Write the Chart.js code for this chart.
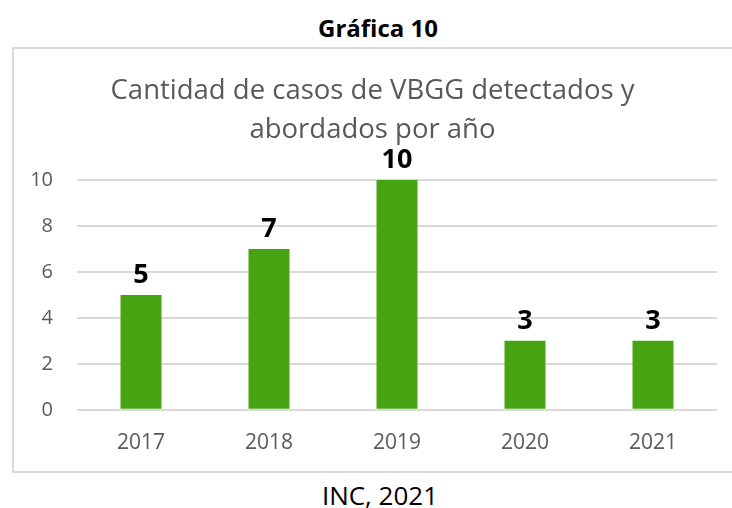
<!DOCTYPE html>
<html>
<head>
<meta charset="utf-8">
<script src="https://cdn.jsdelivr.net/npm/chart.js@4"></script>
<style>
  html, body { margin: 0; padding: 0; width: 732px; height: 508px; overflow: hidden; background: #fff; font-family: "Open Sans", sans-serif; }
  #heading { position: absolute; left: 12px; width: 732px; top: 12px; text-align: center; font-weight: bold; font-size: 24px; line-height: 32px; color: #000; }
  #box { position: absolute; left: 12px; top: 47px; width: 760px; height: 422px; border: 2px solid #d9d9d9; }
  #wrap { position: absolute; left: 14px; top: 49px; width: 718px; height: 428px; }
  #source { position: absolute; left: 14px; width: 732px; top: 478px; text-align: center; font-size: 26px; line-height: 34px; color: #000; }
</style>
</head>
<body>
<div id="heading">Gráfica 10</div>
<div id="box"></div>
<div id="wrap"><canvas id="chart"></canvas></div>
<div id="source">INC, 2021</div>
<script>
// Data
const years = ['2017', '2018', '2019', '2020', '2021'];
const casos = [5, 7, 10, 3, 3];
const yTicks = [0, 2, 4, 6, 8, 10];

// draw the values above each bar
const valueLabels = {
  id: 'valueLabels',
  afterDatasetsDraw(chart) {
    const ctx = chart.ctx;
    const meta = chart.getDatasetMeta(0);
    ctx.save();
    ctx.font = 'bold 27px "Open Sans"';
    ctx.fillStyle = '#000';
    ctx.textAlign = 'center';
    ctx.textBaseline = 'alphabetic';
    meta.data.forEach((bar, i) => {
      ctx.fillText(casos[i], bar.x, bar.y - 12);
    });
    ctx.restore();
  }
};

new Chart(document.getElementById('chart').getContext('2d'), {
  type: 'bar',
  data: {
    labels: years,
    datasets: [{
      data: casos,
      backgroundColor: '#46a312',
      barPercentage: 0.32,
      categoryPercentage: 1
    }]
  },
  options: {
    responsive: true,
    maintainAspectRatio: false,
    animation: false,
    layout: { padding: { left: 14, right: 15, top: 0, bottom: 0 } },
    plugins: {
      legend: { display: false },
      tooltip: { enabled: false },
      title: {
        display: true,
        text: ['Cantidad de casos de VBGG detectados y', 'abordados por año'],
        color: '#595959',
        font: { family: '"Open Sans"', size: 27.5, weight: 'normal', lineHeight: 1.4 },
        padding: { top: 23, bottom: 31 }
      }
    },
    scales: {
      x: {
        grid: { display: false, drawTicks: false },
        border: { display: false },
        ticks: { color: '#595959', font: { family: '"Open Sans"', size: 21 }, padding: 21 }
      },
      y: {
        min: 0,
        max: 10,
        afterBuildTicks(axis) { axis.ticks = yTicks.map(v => ({ value: v })); },
        afterFit(axis) { axis.width = 49; },
        grid: { color: '#d9d9d9', lineWidth: 2, drawTicks: false },
        border: { display: false },
        ticks: { color: '#595959', font: { family: '"Open Sans"', size: 20 }, padding: 24 }
      }
    }
  },
  plugins: [valueLabels]
});
</script>
</body>
</html>
